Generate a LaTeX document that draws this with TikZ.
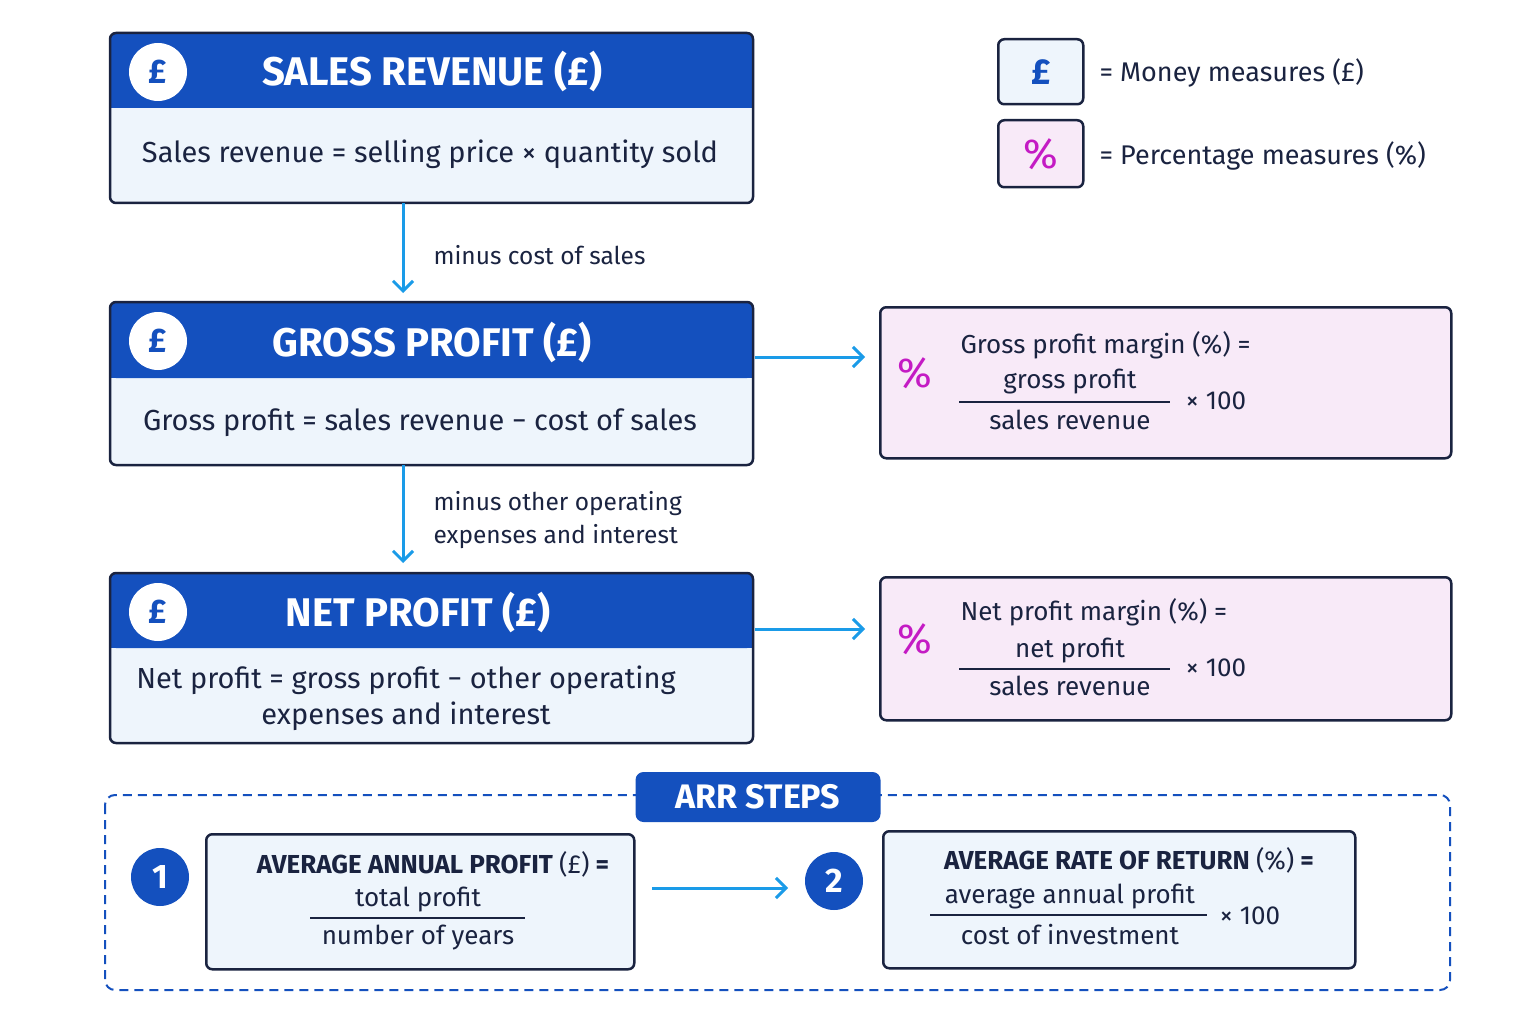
\documentclass[tikz,border=0pt]{standalone}
\usepackage{fontspec}
\setmainfont{Fira Sans}
\usetikzlibrary{arrows.meta}
\definecolor{hb}{HTML}{1450BE}
\definecolor{nv}{HTML}{1A2340}
\definecolor{lb}{HTML}{EEF5FC}
\definecolor{pk}{HTML}{F8EAF8}
\definecolor{mg}{HTML}{C41BC4}
\definecolor{ar}{HTML}{1A9BE8}
\begin{document}
\begin{tikzpicture}[x=1pt,y=-1pt,
 box/.style={draw=nv,line width=2.5pt,rounded corners=6pt},
 hdr/.style={font=\bfseries\fontsize{40}{46}\selectfont,text=white},
 body/.style={font=\fontsize{29}{36}\selectfont,text=nv},
 frm/.style={font=\fontsize{26}{32}\selectfont,text=nv},
 flow/.style={draw=ar,line width=3pt,-{Straight Barb[length=10pt,width=20pt]}},
 coin/.style={circle,fill=white,minimum size=58pt,inner sep=0pt,text=hb,font=\bfseries\fontsize{34}{36}\selectfont},
 num/.style={circle,fill=hb,minimum size=58pt,inner sep=0pt,text=white,font=\bfseries\fontsize{34}{36}\selectfont},
 pct/.style={text=mg,font=\fontsize{42}{44}\selectfont},
 lbl/.style={font=\fontsize{24.5}{33}\selectfont,text=nv,align=left,anchor=west}]
\useasboundingbox (0,0) rectangle (1536,1024);
\fill[white] (0,0) rectangle (1536,1024);
% main boxes
\foreach \ta/\ha/\ba in {33/108/203,302/378/465,573/648/743}{
 \fill[lb,rounded corners=6pt] (110,\ta) rectangle (753,\ba);
 \fill[hb,rounded corners=6pt] (110,\ta) rectangle (753,\ha);
 \fill[hb] (110,\ha-10) rectangle (753,\ha);
 \draw[box] (110,\ta) rectangle (753,\ba);
}
\coordinate (sbot) at (403,203);
\coordinate (gbot) at (403,465);
\coordinate (gright) at (755,357);
\coordinate (nright) at (755,629);
\node[coin] (c1) at (158,72) {£};
\node[coin] (c2) at (158,341) {£};
\node[coin] (c3) at (158,612) {£};
\node[hdr] (h1) at (432,72) {SALES REVENUE (£)};
\node[hdr] (h2) at (432,342) {GROSS PROFIT (£)};
\node[hdr] (h3) at (418,612) {NET PROFIT (£)};
\node[body] (b1) at (430,154) {Sales revenue = selling price × quantity sold};
\node[body] (b2) at (420,423) {Gross profit = sales revenue − cost of sales};
\node[body,align=center] (b3) at (406,698) {Net profit = gross profit − other operating\\expenses and interest};
% vertical arrows
\coordinate (a1) at (403,293);
\coordinate (a2) at (403,563);
\draw[flow] (sbot) -- (a1);
\draw[flow] (gbot) -- (a2);
\node[lbl] (l1) at (430,255) {minus cost of sales};
\node[lbl] (l2) at (430,520) {minus other operating\\expenses and interest};
% pink boxes
\node[box,fill=pk,minimum width=571pt,minimum height=151pt,anchor=north west] (p1) at (879,306) {};
\node[box,fill=pk,minimum width=571pt,minimum height=143pt,anchor=north west] (p2) at (879,576) {};
\coordinate (e1) at (865,357);
\coordinate (e2) at (865,629);
\draw[flow] (gright) -- (e1);
\draw[flow] (nright) -- (e2);
\node[pct] (q1) at (915,373) {\%};
\node[pct] (q2) at (915,639) {\%};
\node[frm,anchor=west] (f1) at (957,345) {Gross profit margin (\%) =};
\node[frm] (n1) at (1070,382) {gross profit};
\node[frm] (d1) at (1070,420) {sales revenue};
\draw[nv,line width=1.8pt] (959,402) -- (1170,402);
\node[frm] (x1) at (1216,401) {× 100};
\node[frm,anchor=west] (f2) at (957,612) {Net profit margin (\%) =};
\node[frm] (n2) at (1070,651) {net profit};
\node[frm] (d2) at (1070,686) {sales revenue};
\draw[nv,line width=1.8pt] (959,669) -- (1170,669);
\node[frm] (x2) at (1216,668) {× 100};
% legend
\node[box,fill=lb,minimum width=85pt,minimum height=65pt,anchor=north west,text=hb,font=\bfseries\fontsize{36}{40}\selectfont] (L1) at (997,38) {£};
\node[box,fill=pk,minimum width=85pt,minimum height=67pt,anchor=north west,pct] (L2) at (997,119) {\%};
\node[lbl,font=\fontsize{27}{30}\selectfont] (t1) at (1096,73) {= Money measures (£)};
\node[lbl,font=\fontsize{27}{30}\selectfont] (t2) at (1096,156) {= Percentage measures (\%)};
% ARR frame
\draw[hb,line width=2pt,dash pattern=on 9pt off 6pt,rounded corners=10pt] (105,795) rectangle (1450,990);
\node[fill=hb,rounded corners=8pt,minimum width=245pt,minimum height=50pt,text=white,font=\bfseries\fontsize{34}{38}\selectfont] (arr) at (758,797) {ARR STEPS};
\node[num] (k1) at (160,877) {1};
\node[num] (k2) at (834,881) {2};
\node[box,fill=lb,minimum width=428pt,minimum height=135pt,anchor=north west] (r1) at (205,833) {};
\node[box,fill=lb,minimum width=472pt,minimum height=137pt,anchor=north west] (r2) at (882,830) {};
\coordinate (s1) at (652,888);
\coordinate (s2) at (788,888);
\draw[flow] (s1) -- (s2);
\node[frm,font=\bfseries\fontsize{26}{30}\selectfont] (r1a) at (433,864) {AVERAGE ANNUAL PROFIT {\mdseries(£)} =};
\node[frm] (r1b) at (418,900) {total profit};
\node[frm] (r1c) at (418,938) {number of years};
\draw[nv,line width=1.8pt] (310,918) -- (525,918);
\node[frm,font=\bfseries\fontsize{26}{30}\selectfont] (r2a) at (1129,860) {AVERAGE RATE OF RETURN {\mdseries(\%)} =};
\node[frm] (r2b) at (1070,897) {average annual profit};
\node[frm] (r2c) at (1070,935) {cost of investment};
\draw[nv,line width=1.8pt] (930,915) -- (1207,915);
\node[frm] (r2d) at (1250,916) {× 100};
\end{tikzpicture}
\end{document}
